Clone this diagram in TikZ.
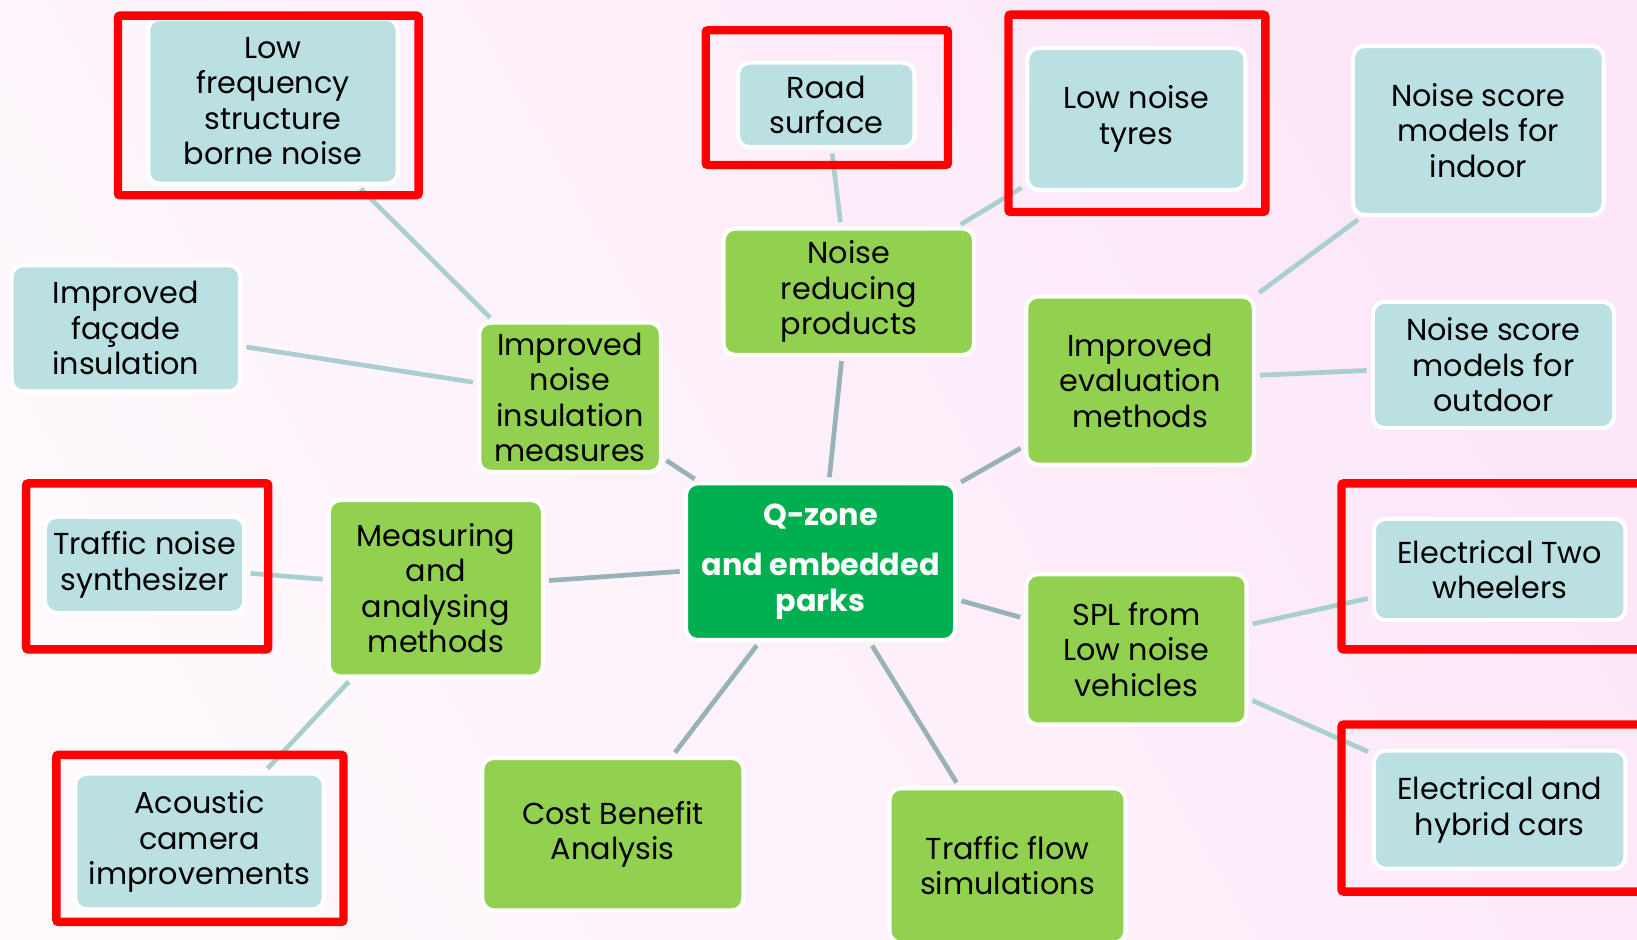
\documentclass[tikz,border=0pt]{standalone}
\usepackage{fontspec}
\setmainfont{Poppins}
\usepackage{tikz}
\definecolor{hubgreen}{HTML}{00B050}
\definecolor{leafgreen}{HTML}{92D050}
\definecolor{leafblue}{HTML}{BAE0E2}
\definecolor{trunkgray}{HTML}{97B3B8}
\definecolor{twigblue}{HTML}{A9CFD1}
\definecolor{bgpink}{HTML}{FCE6F8}
\definecolor{bgwhite}{HTML}{FEF9FD}
\tikzstyle{box}=[rounded corners=11pt, draw=white, line width=4pt, align=center, inner sep=0pt, font=\fontsize{29}{34}\selectfont, execute at begin node={\rule{0pt}{27pt}}]
\tikzstyle{hub}=[box, fill=hubgreen, text=white, font=\fontsize{29}{34}\selectfont\bfseries]
\tikzstyle{branch}=[box, fill=leafgreen]
\tikzstyle{leaf}=[box, fill=leafblue]
\tikzstyle{trunk} = [draw, line width=4.5pt, trunkgray, shorten >=4pt, shorten <=4pt]
\tikzstyle{twig} = [draw, line width=4.5pt, twigblue, shorten >=4pt, shorten <=4pt]
\tikzstyle{highlight} = [draw=red, line width=8pt, rounded corners=2pt]

\begin{document}
\begin{tikzpicture}[x=1pt, y=-1pt]

    \clip (0,0) rectangle (1568,900);
    \shade[left color=bgwhite, right color=bgpink, shading angle=120] (0,0) rectangle (1568,900);

    \node[hub, minimum width=258pt, minimum height=150pt] (hub) at (786,538) {Q-zone\\[14pt]and embedded\\parks};

    \foreach \x/\y/\w/\h/\name/\txt in {813/279.5/240/121/prod/{Noise\\reducing\\products},
                                       546/380.5/174/143/insul/{Improved\\noise\\insulation\\measures},
                                       1092/364.5/218/161/eval/{Improved\\evaluation\\methods},
                                       417.5/563.5/205/169/meas/{Measuring\\and\\analysing\\methods},
                                       1088.5/622/211/144/spl/{SPL from\\Low noise\\vehicles},
                                       587/799/250/146/cba/{Cost Benefit\\Analysis},
                                       965/829/226/148/flow/{Traffic flow\\simulations}}
        \node[branch, minimum width=\w*1pt, minimum height=\h*1pt] (\name) at (\x,\y) {\txt};

    \foreach \x/\y/\w/\h/\name/\txt in {261.5/97/239/158/lowfreq/{Low\\frequency\\structure\\borne noise},
                                       791.5/100.5/169/81/road/{Road\\surface},
                                       1088.5/114/209/136/tyres/{Low noise\\tyres},
                                       1416/125/240/162/indoor/{Noise score\\models for\\indoor},
                                       120.5/314.5/219/121/facade/{Improved\\façade\\insulation},
                                       1430.5/349.5/231/121/outdoor/{Noise score\\models for\\outdoor},
                                       138.5/541/191/92/synth/{Traffic noise\\synthesizer},
                                       1436.5/545.5/241/97/twowh/{Electrical Two\\wheelers},
                                       191/806/238/130/camera/{Acoustic\\camera\\improvements},
                                       1436.5/775.5/241/113/hybrid/{Electrical and\\hybrid cars}}
        \node[leaf, minimum width=\w*1pt, minimum height=\h*1pt] (\name) at (\x,\y) {\txt};

    \foreach \source/\dest in {hub/prod, hub/insul, hub/eval, hub/meas, hub/spl, hub/cba, hub/flow}
        \path[trunk] (\source) -- (\dest);

    \foreach \source/\dest in {lowfreq/insul, facade/insul, road/prod, tyres/prod, eval/indoor, eval/outdoor,
                               synth/meas, meas/camera, spl/twowh, spl/hybrid}
        \path[twig] (\source) -- (\dest);

    % red frames round the chosen topics
    \foreach \xa/\ya/\xb/\yb in {113/15/401/187, 676/29/908/158, 966/14/1212/203, 25/463/257/622,
                                 54/723/329/883, 1285/463/1600/622, 1285/694/1600/854}
        \draw[highlight] (\xa,\ya) rectangle (\xb,\yb);

\end{tikzpicture}
\end{document}
